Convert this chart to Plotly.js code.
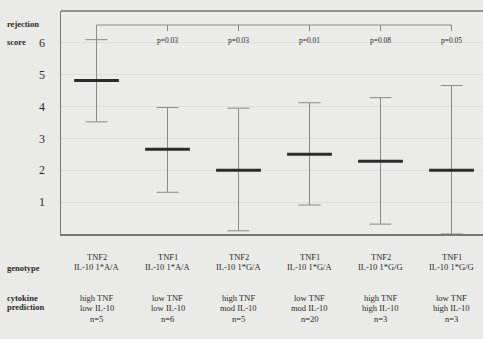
<!DOCTYPE html>
<html>
<head>
<meta charset="utf-8">
<script src="https://cdn.plot.ly/plotly-3.0.1.min.js"></script>
<style>
html,body{margin:0;padding:0;background:#eaeae8;overflow:hidden;}
#chart{width:483px;height:339px;}
</style>
</head>
<body>
<div id="chart"></div>
<script>
// Data
const genotypeTNF = ["TNF2", "TNF1", "TNF2", "TNF1", "TNF2", "TNF1"];
const genotypeIL10 = ["IL-10 1*A/A", "IL-10 1*A/A", "IL-10 1*G/A", "IL-10 1*G/A", "IL-10 1*G/G", "IL-10 1*G/G"];
const predTNF = ["high TNF", "low TNF", "high TNF", "low TNF", "high TNF", "low TNF"];
const predIL10 = ["low IL-10", "low IL-10", "mod IL-10", "mod IL-10", "high IL-10", "high IL-10"];
const nLabels = ["n=5", "n=6", "n=5", "n=20", "n=3", "n=3"];
const medianScore = [4.82, 2.66, 2.0, 2.5, 2.28, 2.0];
const maxScore = [6.1, 3.97, 3.95, 4.12, 4.28, 4.66];
const minScore = [3.52, 1.31, 0.1, 0.91, 0.31, 0.0];
const pValues = ["", "p=0.03", "p=0.03", "p=0.01", "p=0.08", "p=0.05"];
const yTicks = [1, 2, 3, 4, 5, 6];

const xIdx = genotypeTNF.map((_, i) => i);
const serif = "Liberation Serif, Times New Roman, serif";
const textColor = "#2a2a2a";

const trace = {
  type: "scatter",
  mode: "markers",
  x: xIdx,
  y: medianScore,
  marker: {symbol: "line-ew", size: 32, line: {width: 3, color: "#2c2c2c"}, color: "#2c2c2c"},
  error_y: {
    type: "data",
    symmetric: false,
    array: maxScore.map((v, i) => v - medianScore[i]),
    arrayminus: medianScore.map((v, i) => v - minScore[i]),
    color: "#8a8a8a",
    thickness: 1,
    width: 11
  },
  hoverinfo: "skip",
  showlegend: false
};

const bracketTop = 6.56, bracketTick = 6.37, pY = 6.06;
const shapes = [
  {type: "line", xref: "paper", yref: "paper", x0: 0, x1: 1, y0: 1, y1: 1, line: {color: "#777", width: 1.5}},
  {type: "line", xref: "x", yref: "y", x0: 0, x1: xIdx[xIdx.length - 1], y0: bracketTop, y1: bracketTop, line: {color: "#8a8a8a", width: 1}},
  {type: "line", xref: "x", yref: "y", x0: 0, x1: 0, y0: bracketTop, y1: maxScore[0], line: {color: "#8a8a8a", width: 1}}
];
for (let i = 1; i < xIdx.length; i++) {
  shapes.push({type: "line", xref: "x", yref: "y", x0: i, x1: i, y0: bracketTop, y1: bracketTick, line: {color: "#8a8a8a", width: 1}});
}

const annotations = [];
xIdx.forEach(i => {
  if (pValues[i]) {
    annotations.push({x: i, y: pY, xref: "x", yref: "y", text: pValues[i], showarrow: false,
      font: {family: serif, size: 7.5, color: textColor}, yanchor: "middle"});
  }
  const lines = [
    [genotypeTNF[i], 257],
    [genotypeIL10[i], 267],
    [predTNF[i], 298],
    [predIL10[i], 308],
    [nLabels[i], 319]
  ];
  lines.forEach(([t, py]) => {
    annotations.push({x: i, xref: "x", yref: "paper", y: (234 - py) / 223, text: t, showarrow: false,
      font: {family: serif, size: 8.5, color: textColor}, yanchor: "middle"});
  });
});
const leftLabels = [["rejection", 24], ["score", 42], ["genotype", 268], ["cytokine", 298], ["prediction", 307]];
leftLabels.forEach(([t, py]) => {
  annotations.push({x: (5 - 61) / 422, xref: "paper", xanchor: "left", yref: "paper", y: (234 - py) / 223,
    text: "<b>" + t + "</b>", showarrow: false, font: {family: serif, size: 8.5, color: textColor}, yanchor: "middle"});
});

const layout = {
  width: 483,
  height: 339,
  margin: {l: 61, r: 0, t: 11, b: 105, pad: 0},
  paper_bgcolor: "#eaeae8",
  plot_bgcolor: "#ebebe9",
  showlegend: false,
  xaxis: {
    range: [-0.5, -0.5 + 422 / 71],
    showgrid: false,
    zeroline: false,
    showticklabels: false,
    ticks: "",
    showline: true,
    linecolor: "#777",
    linewidth: 1.5,
    fixedrange: true
  },
  yaxis: {
    range: [0, 7],
    tickvals: yTicks,
    ticktext: yTicks.map(String),
    showgrid: true,
    gridcolor: "#dfdfdd",
    gridwidth: 1,
    zeroline: false,
    showline: true,
    linecolor: "#777",
    linewidth: 1.5,
    ticks: "",
    ticklabelstandoff: 12,
    tickfont: {family: serif, size: 12, color: textColor},
    fixedrange: true
  },
  shapes: shapes,
  annotations: annotations
};

Plotly.newPlot("chart", [trace], layout, {displayModeBar: false, staticPlot: true});
</script>
</body>
</html>
